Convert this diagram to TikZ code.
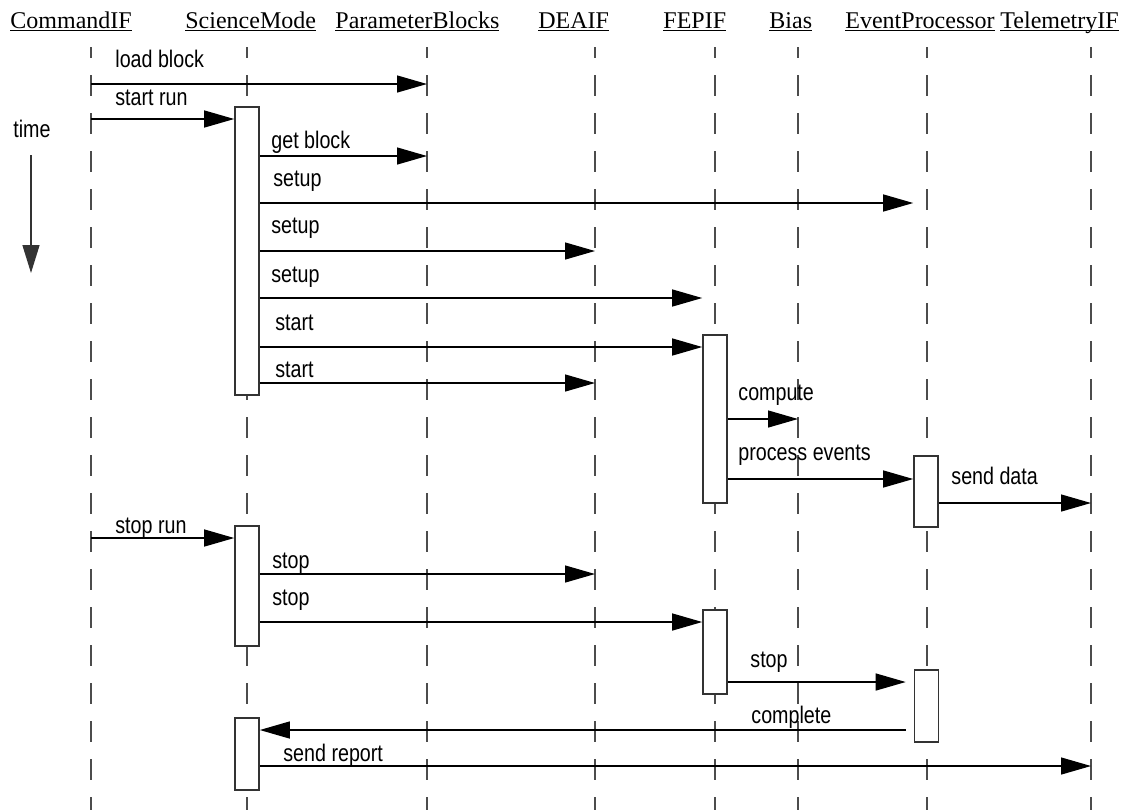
\documentclass[tikz,border=0pt]{standalone}
\usepackage{fontspec}
\setmainfont{Liberation Serif}
\newfontfamily\narrowsans[FakeStretch=0.82]{Liberation Sans}
\usetikzlibrary{arrows.meta}

\tikzset{
    obj/.style={anchor=base west, inner sep=0pt, font=\fontsize{12}{14}\selectfont},
    lifeline/.style={draw=black!70, line width=0.9pt, dash pattern=on 10.5pt off 8.5pt, dash phase=5pt},
    act/.style={draw=black!80, fill=white, line width=0.8pt, minimum width=12pt, inner sep=0pt},
    msg/.style={draw=black, line width=0.65pt, -{Triangle[length=15pt,width=8.5pt]}},
    txt/.style={anchor=base west, inner sep=0pt, font=\narrowsans\fontsize{12}{14}\selectfont}
}

\begin{document}
\begin{tikzpicture}[x=0.5pt, y=-0.5pt]

    \useasboundingbox (0,0) rectangle (1128,810);

    % Objects
    \node[obj] (commandif)   at (10,28)   {\underline{\smash{CommandIF}}};
    \node[obj] (sciencemode) at (185,28)  {\underline{\smash{ScienceMode}}};
    \node[obj] (paramblocks) at (335,28)  {\underline{\smash{ParameterBlocks}}};
    \node[obj] (deaifhd)     at (538,28)  {\underline{\smash{DEAIF}}};
    \node[obj] (fepifhd)     at (663,28)  {\underline{\smash{FEPIF}}};
    \node[obj] (biashd)      at (769,28)  {\underline{\smash{Bias}}};
    \node[obj] (eventproc)   at (845,28)  {\underline{\smash{EventProcessor}}};
    \node[obj] (telemetryif) at (1000,28) {\underline{\smash{TelemetryIF}}};

    % Lifelines
    \foreach \name/\x in {cmd/91, sm/247, pb/427, deaif/595, fepif/715, bias/798, ep/927, tm/1091} {
        \coordinate (\name) at (\x,47);
        \draw[lifeline] (\name) -- (\name |- 0,810);
    }

    % Time
    \node[txt] (time) at (13,137) {time};
    \coordinate (t1) at (31,155);
    \coordinate (t2) at (31,273);
    \draw[draw=black!80, line width=0.7pt, -{Triangle[length=14pt,width=8.5pt]}] (t1) -- (t2);

    % Activations
    \node[act, minimum height=144pt] (sm1) at (247,251)   {};
    \node[act, minimum height=60pt]  (sm2) at (247,586)   {};
    \node[act, minimum height=36pt]  (sm3) at (247,754)   {};
    \node[act, minimum height=84pt]  (fe1) at (715,419)   {};
    \node[act, minimum height=42pt]  (fe2) at (715,652)   {};
    \node[act, minimum height=35.5pt] (ep1) at (926,491.5) {};
    \node[act, minimum height=36pt]  (ep2) at (926.5,706) {};

    % Messages
    \draw[msg] (cmd |- 0,84)      -- (pb |- 0,84);
    \draw[msg] (cmd |- 0,119)     -- (sm1.west |- 0,119);
    \draw[msg] (sm1.east |- 0,156) -- (pb |- 0,156);
    \draw[msg] (sm1.east |- 0,203) -- (ep1.west |- 0,203);
    \draw[msg] (sm1.east |- 0,251) -- (deaif |- 0,251);
    \draw[msg] (sm1.east |- 0,298) -- (fe1.west |- 0,298);
    \draw[msg] (sm1.east |- 0,347) -- (fe1.west |- 0,347);
    \draw[msg] (sm1.east |- 0,383) -- (deaif |- 0,383);
    \draw[msg] (fe1.east |- 0,419) -- (bias |- 0,419);
    \draw[msg] (fe1.east |- 0,479) -- (ep1.west |- 0,479);
    \draw[msg] (ep1.east |- 0,503) -- (tm |- 0,503);
    \draw[msg] (cmd |- 0,538)     -- (sm2.west |- 0,538);
    \draw[msg] (sm2.east |- 0,574) -- (deaif |- 0,574);
    \draw[msg] (sm2.east |- 0,622) -- (fe2.west |- 0,622);
    \draw[msg, shorten >=4pt] (fe2.east |- 0,682) -- (ep2.west |- 0,682);
    \draw[msg, shorten <=4pt] (ep2.west |- 0,730) -- (sm3.east |- 0,730);
    \draw[msg] (sm3.east |- 0,766) -- (tm |- 0,766);

    % Labels
    \node[txt] (l1)  at (115,67)  {load block};
    \node[txt] (l2)  at (115,105) {start run};
    \node[txt] (l3)  at (271,148) {get block};
    \node[txt] (l4)  at (273,186) {setup};
    \node[txt] (l5)  at (271,233) {setup};
    \node[txt] (l6)  at (271,282) {setup};
    \node[txt] (l7)  at (275,330) {start};
    \node[txt] (l8)  at (275,377) {start};
    \node[txt] (l9)  at (738,400) {compute};
    \node[txt] (l10) at (738,460) {process events};
    \node[txt] (l11) at (951,484) {send data};
    \node[txt] (l12) at (115,533) {stop run};
    \node[txt] (l13) at (272,568) {stop};
    \node[txt] (l14) at (272,605) {stop};
    \node[txt] (l15) at (750,667) {stop};
    \node[txt] (l16) at (751,723) {complete};
    \node[txt] (l17) at (283,761) {send report};

\end{tikzpicture}
\end{document}
